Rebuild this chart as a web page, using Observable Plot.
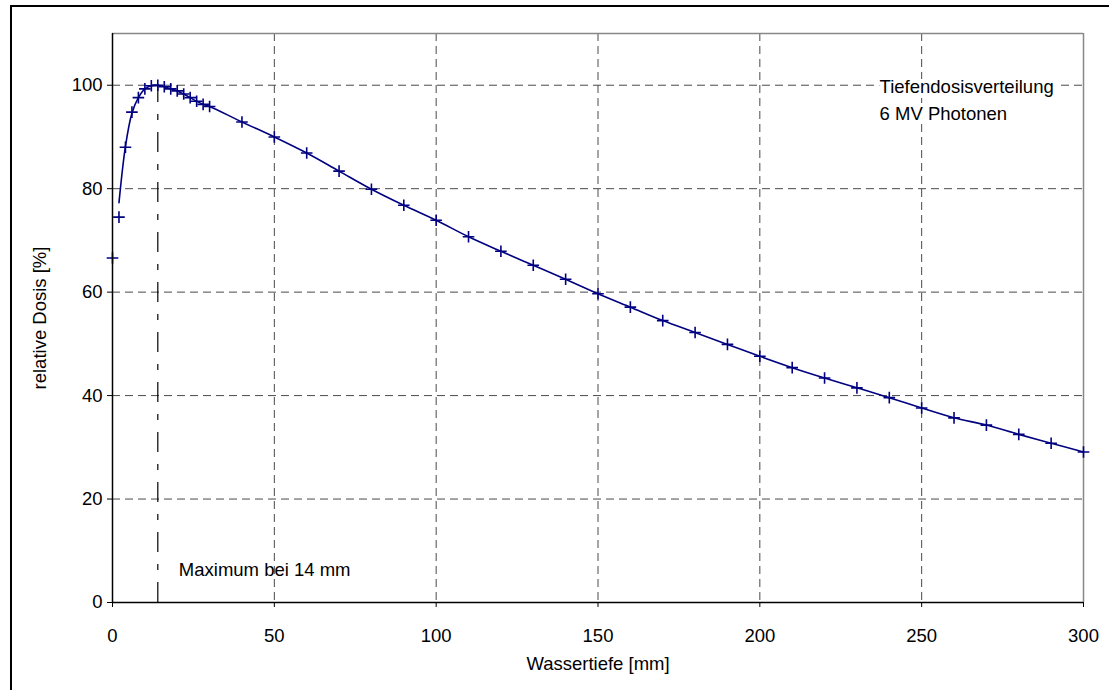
<!DOCTYPE html>
<html>
<head>
<meta charset="utf-8">
<script src="https://cdn.jsdelivr.net/npm/d3@7"></script>
<script src="https://cdn.jsdelivr.net/npm/@observablehq/plot@0.6"></script>
<style>
  html, body { margin: 0; padding: 0; background: white; }
  #chart { position: relative; width: 1109px; height: 690px; overflow: hidden; }
</style>
</head>
<body>
<div id="chart"></div>
<script>
// Measured points (Wassertiefe in mm, relative Dosis in %)
const depth = [0, 2, 4, 6, 8, 10, 12, 14, 16, 18, 20, 22, 24, 26, 28, 30,
  40, 50, 60, 70, 80, 90, 100, 110, 120, 130, 140, 150, 160, 170, 180, 190,
  200, 210, 220, 230, 240, 250, 260, 270, 280, 290, 300];
const dose = [66.6, 74.5, 88.0, 94.8, 97.6, 99.3, 99.9, 100.0, 99.7, 99.3, 98.9, 98.3, 97.6, 96.9, 96.3, 95.9,
  92.9, 90.0, 86.9, 83.4, 79.9, 76.8, 73.9, 70.7, 67.9, 65.2, 62.5, 59.7, 57.1, 54.5, 52.2, 49.9,
  47.6, 45.4, 43.4, 41.5, 39.6, 37.6, 35.7, 34.3, 32.5, 30.8, 29.1];

// Smoothed curve (starts at 2 mm)
const lineDepth = [2, 4, 6, 8, 10, 12, 14, 16, 18, 20, 22, 24, 26, 28, 30,
  40, 50, 60, 70, 80, 90, 100, 110, 120, 130, 140, 150, 160, 170, 180, 190,
  200, 210, 220, 230, 240, 250, 260, 270, 280, 290, 300];
const lineDose = [77.3, 88.2, 94.6, 97.6, 99.3, 99.9, 100.0, 99.7, 99.3, 98.9, 98.3, 97.6, 96.9, 96.3, 95.9,
  92.9, 90.0, 86.9, 83.4, 79.9, 76.8, 73.9, 70.7, 67.9, 65.2, 62.5, 59.7, 57.1, 54.5, 52.2, 49.9,
  47.6, 45.4, 43.4, 41.5, 39.6, 37.6, 35.7, 34.3, 32.5, 30.8, 29.1];

const xTicks = [0, 50, 100, 150, 200, 250, 300];
const yTicks = [0, 20, 40, 60, 80, 100];
const xGrid = [50, 100, 150, 200, 250];
const yGrid = [20, 40, 60, 80, 100];
const xMax = 300, yMax = 110;

const maxDepth = [14];
const maxDose = 100;

const notes = [
  {x: 237, y: 99.6, text: "Tiefendosisverteilung"},
  {x: 237, y: 94.4, text: "6 MV Photonen"},
  {x: 20.5, y: 6.2, text: "Maximum bei 14 mm"}
];

const xLabel = "Wassertiefe [mm]";
const yLabel = "relative Dosis [%]";

const points = depth.map((d, i) => ({depth: d, dose: dose[i]}));
const curve = lineDepth.map((d, i) => ({depth: d, dose: lineDose[i]}));

const plusSymbol = {
  draw(context, size) {
    const h = Math.sqrt(size / Math.PI);
    context.moveTo(-h, 0); context.lineTo(h, 0);
    context.moveTo(0, -h); context.lineTo(0, h);
  }
};

const navy = "#000080";
const gridColor = "#4a4a4a";
const fs = 18.5;

const chart = Plot.plot({
  width: 1109,
  height: 690,
  marginLeft: 112,
  marginRight: 26,
  marginTop: 33,
  marginBottom: 88,
  style: {fontFamily: "'Liberation Sans', Arial, sans-serif", fontSize: fs + "px", color: "black", background: "white"},
  x: {domain: [0, xMax], ticks: xTicks, tickSize: 5, tickPadding: 21, label: null},
  y: {domain: [0, yMax], ticks: yTicks, tickSize: 5, tickPadding: 5, label: null},
  marks: [
    Plot.ruleY(yGrid, {stroke: gridColor, strokeDasharray: "8,5", strokeWidth: 1}),
    Plot.ruleX(xGrid, {stroke: gridColor, strokeDasharray: "8,5", strokeWidth: 1}),
    Plot.ruleY([yMax], {stroke: "#888", strokeWidth: 1.5}),
    Plot.ruleX([xMax], {stroke: "#888", strokeWidth: 1.5}),
    Plot.ruleX(maxDepth, {y1: 0, y2: maxDose, stroke: "black", strokeWidth: 1.2, strokeDasharray: "20,12,6,12"}),
    Plot.text(notes.slice(0, 2), {x: "x", y: "y", text: "text", textAnchor: "start", fontSize: fs, fill: "black", stroke: "white", strokeWidth: 8}),
    Plot.text(notes.slice(2), {x: "x", y: "y", text: "text", textAnchor: "start", fontSize: fs, fill: "black"}),
    Plot.line(curve, {x: "depth", y: "dose", stroke: navy, strokeWidth: 1.6, curve: "catmull-rom"}),
    Plot.dot(points, {x: "depth", y: "dose", symbol: plusSymbol, r: 5.8, stroke: navy, strokeWidth: 1.6, fill: "none"}),
    Plot.ruleX([0], {stroke: "black", strokeWidth: 1.5}),
    Plot.ruleY([0], {stroke: "black", strokeWidth: 1.5}),
    Plot.text([xLabel], {frameAnchor: "bottom", dy: 67, text: d => d, fontSize: fs, fill: "black"}),
    Plot.text([yLabel], {frameAnchor: "left", textAnchor: "middle", dx: -72, rotate: -90, text: d => d, fontSize: fs, fill: "black"})
  ]
});

d3.select(chart).append("rect")
  .attr("x", 11).attr("y", 6).attr("width", 1300).attr("height", 1300)
  .attr("fill", "none").attr("stroke", "black").attr("stroke-width", 2);

document.getElementById("chart").appendChild(chart);
</script>
</body>
</html>
